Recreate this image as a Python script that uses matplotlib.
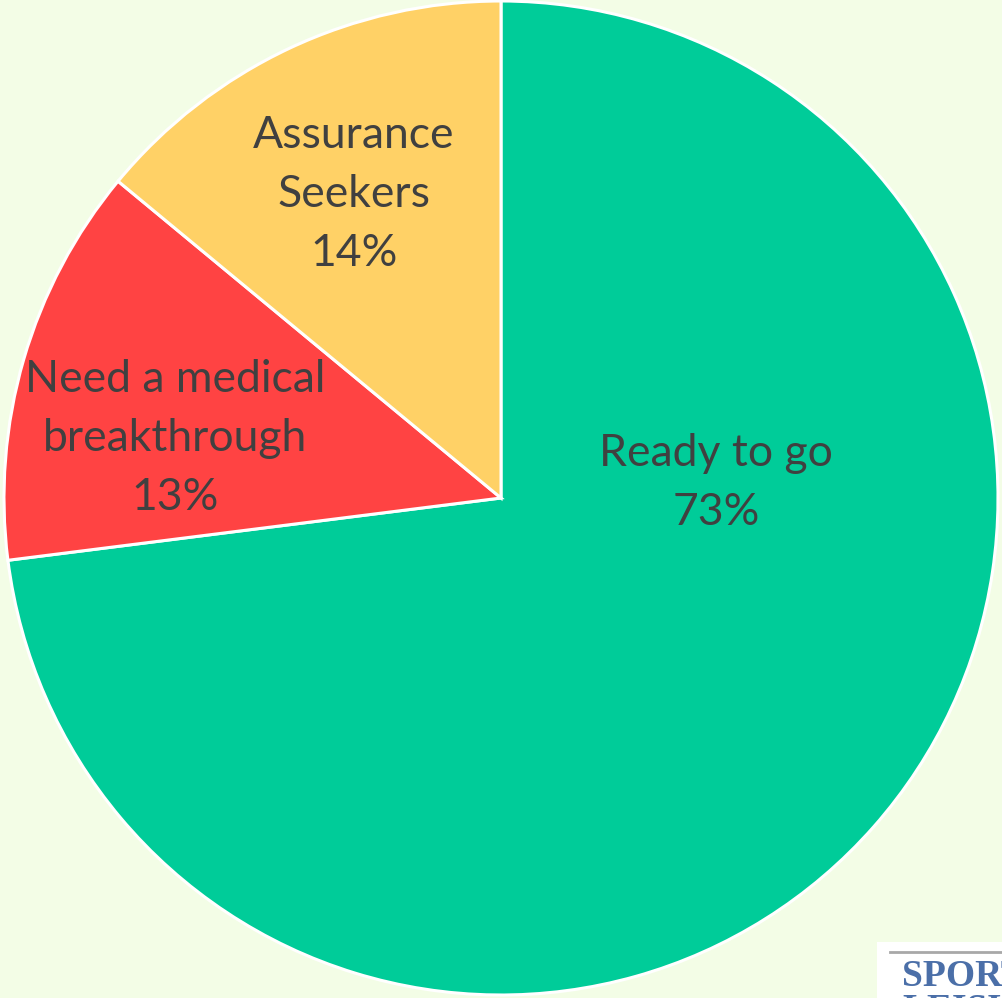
import matplotlib.pyplot as plt
from matplotlib.patches import Rectangle

# segment shares (percent), drawn clockwise from 12 o'clock
segments = ["Ready to go", "Need a medical\nbreakthrough", "Assurance\nSeekers"]
shares = [73, 13, 14]
colors = ["#00CC99", "#FF4343", "#FFD166"]
# where each label sits, in units of the pie radius
label_xy = [(0.433, 0.03), (-0.656, 0.12), (-0.296, 0.61)]

bg = "#F3FDE6"
text_color = "#404040"

fig = plt.figure(figsize=(10.02, 9.98), dpi=100, facecolor=bg)
ax = fig.add_axes([4 / 1002, 3 / 998, 994 / 1002, 994 / 998])
ax.set_facecolor(bg)

ax.pie(shares, colors=colors, startangle=90, counterclock=False, radius=1,
       wedgeprops=dict(edgecolor="white", linewidth=2.2))
ax.set_aspect("auto")
ax.set_xlim(-1, 1)
ax.set_ylim(-1, 1)
ax.axis("off")

for name, val, (x, y) in zip(segments, shares, label_xy):
    ax.text(x, y, f"{name}\n{val}%", ha="center", va="center",
            fontsize=32, family="Lato", color=text_color, linespacing=1.55)

# corner logo, cut off by the edge of the image
fig.patches.append(Rectangle((877 / 1002, 0), 0.2, 56 / 998, transform=fig.transFigure,
                             facecolor="white", edgecolor="none", zorder=5))
fig.lines.append(plt.Line2D([890 / 1002, 1], [46 / 998, 46 / 998], transform=fig.transFigure,
                            color="#A8A8A8", linewidth=2, zorder=6))
logo_font = dict(fontsize=27, family="Liberation Serif", weight="bold",
                 color="#4B6FA8", ha="left", va="baseline", zorder=7)
fig.text(902 / 1002, 12 / 998, "SPORTS", **logo_font)
fig.text(902 / 1002, -22 / 998, "LEISURE", **logo_font)

fig.savefig("out.png", dpi=100, facecolor=bg)
